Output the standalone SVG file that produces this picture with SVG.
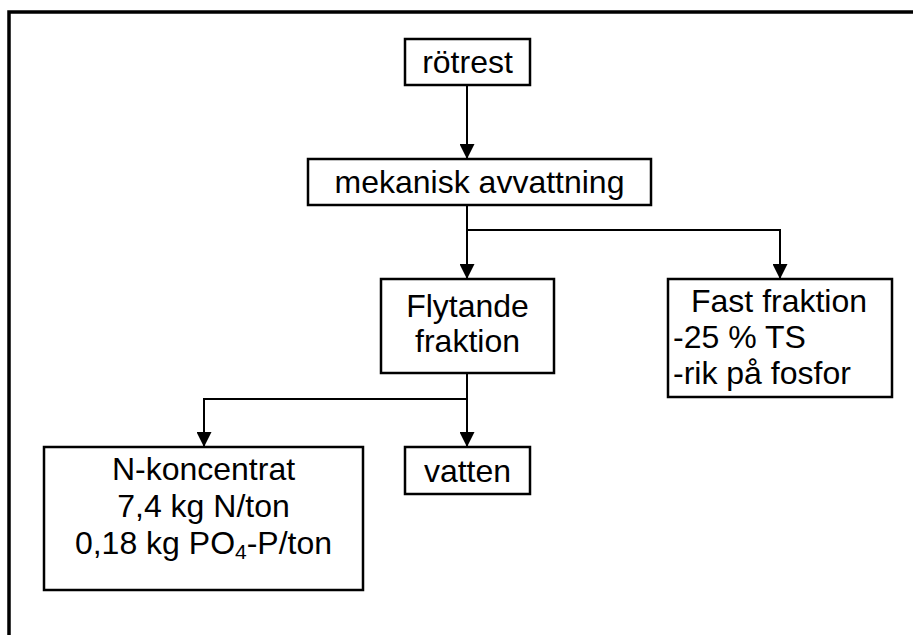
<svg xmlns="http://www.w3.org/2000/svg" width="913" height="635" viewBox="0 0 913 635">
  <style>
    .box { fill: #ffffff; stroke: #000000; stroke-width: 2.5; }
    .frame { fill: none; stroke: #000000; stroke-width: 3.5; }
    .link { fill: none; stroke: #000000; stroke-width: 2; }
    text { font-family: "Liberation Sans", Arial, sans-serif; font-size: 32px; fill: #000000; }
    .c { text-anchor: middle; }
  </style>
  <defs>
    <marker id="arrow" markerUnits="userSpaceOnUse" markerWidth="15" markerHeight="15" refX="15" refY="7.5" orient="auto">
      <path d="M0,0 L15,7.5 L0,15 Z" fill="#000000"/>
    </marker>
  </defs>

  <rect class="frame" x="9" y="12" width="930" height="650"/>

  <g id="connectors">
    <path class="link" d="M467,85 V159" marker-end="url(#arrow)"/>
    <path class="link" d="M467,205 V279" marker-end="url(#arrow)"/>
    <path class="link" d="M467,230 H780 V279" marker-end="url(#arrow)"/>
    <path class="link" d="M467,373 V447" marker-end="url(#arrow)"/>
    <path class="link" d="M467,399 H204 V447" marker-end="url(#arrow)"/>
  </g>

  <g id="rotrest">
    <rect class="box" x="405" y="39" width="125" height="46"/>
    <text class="c" x="467.5" y="73">rötrest</text>
  </g>

  <g id="avvattning">
    <rect class="box" x="308" y="159" width="343" height="46"/>
    <text class="c" x="479.5" y="193">mekanisk avvattning</text>
  </g>

  <g id="flytande">
    <rect class="box" x="381" y="279" width="173" height="94"/>
    <text class="c" x="467.5" y="317">Flytande</text>
    <text class="c" x="467.5" y="352">fraktion</text>
  </g>

  <g id="fast">
    <rect class="box" x="668" y="279" width="224" height="118"/>
    <text x="691" y="312">Fast fraktion</text>
    <text x="673" y="348">-25 % TS</text>
    <text x="673" y="384">-rik på fosfor</text>
  </g>

  <g id="koncentrat">
    <rect class="box" x="44" y="447" width="319" height="143"/>
    <text class="c" x="203.5" y="480">N-koncentrat</text>
    <text class="c" x="203.5" y="517">7,4 kg N/ton</text>
    <text class="c" x="203.5" y="554">0,18 kg PO<tspan font-size="21" dy="5">4</tspan><tspan dy="-5">-P/ton</tspan></text>
  </g>

  <g id="vatten">
    <rect class="box" x="405" y="447" width="125" height="47"/>
    <text class="c" x="467.5" y="482">vatten</text>
  </g>
</svg>
